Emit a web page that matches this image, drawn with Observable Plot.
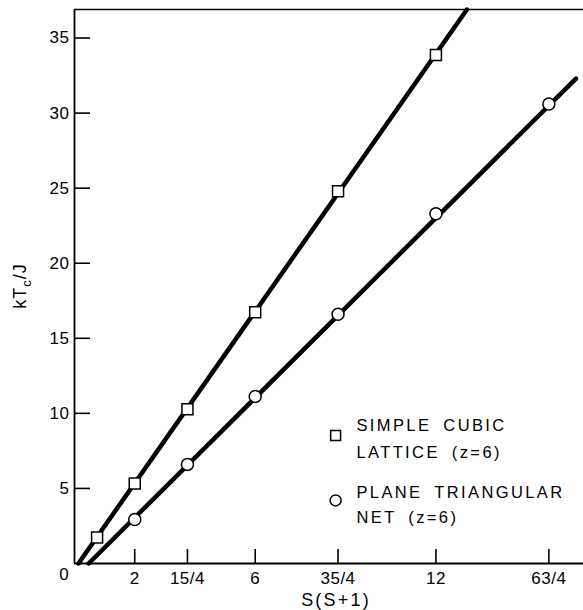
<!DOCTYPE html>
<html>
<head>
<meta charset="utf-8">
<script src="https://cdn.jsdelivr.net/npm/d3@7"></script>
<script src="https://cdn.jsdelivr.net/npm/@observablehq/plot@0.6"></script>
<style>
  html, body { margin: 0; padding: 0; background: #fff; }
  #chart { position: relative; width: 583px; height: 610px; }
  svg { font-family: "Liberation Sans", Arial, sans-serif; }
</style>
</head>
<body>
<div id="chart"></div>
<script>
// ---- data ----
const xTicks = [2, 3.75, 6, 8.75, 12, 15.75];
const xTickLabels = ["2", "15/4", "6", "35/4", "12", "63/4"];
const yTicks = [5, 10, 15, 20, 25, 30, 35];

const cubicX = [0.75, 2, 3.75, 6, 8.75, 12];
const cubicY = [1.73, 5.33, 10.27, 16.73, 24.8, 33.87];
const triX = [2, 3.75, 6, 8.75, 12, 15.75];
const triY = [2.93, 6.6, 11.13, 16.6, 23.3, 30.6];

// straight fitted lines drawn through the points
const cubicFitX = [0.13, 13.03];
const cubicFitY = [0, 36.9];
const triFitX = [0.47, 16.65];
const triFitY = [0, 32.3];

const legendLabels = [
  ["SIMPLE CUBIC", "LATTICE (z=6)"],
  ["PLANE TRIANGULAR", "NET (z=6)"]
];

// ---- tables ----
const cubic = cubicX.map((x, i) => ({x, y: cubicY[i]}));
const tri = triX.map((x, i) => ({x, y: triY[i]}));
const cubicFit = cubicFitX.map((x, i) => ({x, y: cubicFitY[i]}));
const triFit = triFitX.map((x, i) => ({x, y: triFitY[i]}));
const labelOf = new Map(xTicks.map((t, i) => [t, xTickLabels[i]]));

const xMax = 16.9, yMax = 36.9;
const W = 583, H = 610;
const mL = 74, mT = 9, mR = 0, mB = 47;
const innerW = W - mL - mR, innerH = H - mT - mB;

// legend placement (data units)
const legX = 8.67, legTextX = 9.36;
const legend = [
  {sym: "square", y: 8.53, l1: 9.19, l2: 7.4, t: legendLabels[0]},
  {sym: "circle", y: 4.2, l1: 4.73, l2: 3.07, t: legendLabels[1]}
];

const plot = Plot.plot({
  width: W,
  height: H,
  marginLeft: mL, marginTop: mT, marginRight: mR, marginBottom: mB,
  style: {fontFamily: "'Liberation Sans', Arial, sans-serif", fontSize: "17px", color: "#000", background: "#fff"},
  x: {domain: [0, xMax]},
  y: {domain: [0, yMax]},
  marks: [
    // frame lines
    Plot.ruleY([0], {stroke: "#000", strokeWidth: 1.8}),
    Plot.ruleY([yMax], {stroke: "#000", strokeWidth: 1.4}),
    Plot.ruleX([0], {stroke: "#000", strokeWidth: 1.8}),
    // inward ticks
    Plot.tickX(xTicks, {x: d => d, stroke: "#000", strokeWidth: 1.6, insetTop: innerH - 14}),
    Plot.tickY(yTicks, {y: d => d, stroke: "#000", strokeWidth: 1.6, insetRight: innerW - 16}),
    // tick labels
    Plot.axisX(xTicks, {tickSize: 0, tickPadding: 8, tickFormat: d => labelOf.get(d), label: null, fontSize: 17, className: "xlab"}),
    Plot.axisY(yTicks, {tickSize: 0, tickPadding: 5, label: null, fontSize: 17, className: "ylab"}),
    // fitted lines
    Plot.line(cubicFit, {x: "x", y: "y", stroke: "#000", strokeWidth: 4.5}),
    Plot.line(triFit, {x: "x", y: "y", stroke: "#000", strokeWidth: 4.5}),
    // points
    Plot.dot(cubic, {x: "x", y: "y", symbol: "square", r: 6.2, fill: "#fff", stroke: "#000", strokeWidth: 1.5}),
    Plot.dot(tri, {x: "x", y: "y", symbol: "circle", r: 6, fill: "#fff", stroke: "#000", strokeWidth: 1.5}),
    // legend
    Plot.dot(legend.filter(d => d.sym === "square"), {x: () => legX, y: "y", symbol: "square", r: 5.6, fill: "#fff", stroke: "#000", strokeWidth: 1.5}),
    Plot.dot(legend.filter(d => d.sym === "circle"), {x: () => legX, y: "y", symbol: "circle", r: 5.5, fill: "#fff", stroke: "#000", strokeWidth: 1.5}),
    Plot.text(legend, {x: () => legTextX, y: "l1", text: d => d.t[0], textAnchor: "start", fontSize: 16.5, fill: "#000", className: "leg"}),
    Plot.text(legend, {x: () => legTextX, y: "l2", text: d => d.t[1], textAnchor: "start", fontSize: 16.5, fill: "#000", className: "leg"})
  ]
});

const svg = d3.select(plot);
svg.selectAll("text").each(function() {
  const p = this.parentNode;
  const lab = (p && p.getAttribute && p.getAttribute("aria-label")) || "";
  if (lab.includes("tick label")) {
    this.setAttribute("font-size", "17");
    this.style.fontSize = "17px";
    this.style.letterSpacing = "0.5px";
  }
});
svg.selectAll(".leg text").style("letter-spacing", "2.4px").style("word-spacing", "5px");

// corner "0"
svg.append("text")
  .attr("x", mL - 10).attr("y", H - mB + 12).attr("dy", "0.32em")
  .attr("text-anchor", "middle").style("font-size", "17px").attr("fill", "#000")
  .text("0");

// x axis label
svg.append("text")
  .attr("x", 336).attr("y", H - 4)
  .attr("text-anchor", "middle").style("font-size", "18px").attr("fill", "#000")
  .style("letter-spacing", "2.2px")
  .text("S(S+1)");

// y axis label with subscript
const yl = svg.append("text")
  .attr("transform", `translate(26,286) rotate(-90)`)
  .attr("text-anchor", "middle").style("font-size", "18px").attr("fill", "#000")
  .style("letter-spacing", "1px");
yl.append("tspan").text("kT");
yl.append("tspan").style("font-size", "13px").attr("dy", 5).text("c");
yl.append("tspan").attr("dy", -5).text("/J");

document.getElementById("chart").appendChild(plot);
</script>
</body>
</html>
